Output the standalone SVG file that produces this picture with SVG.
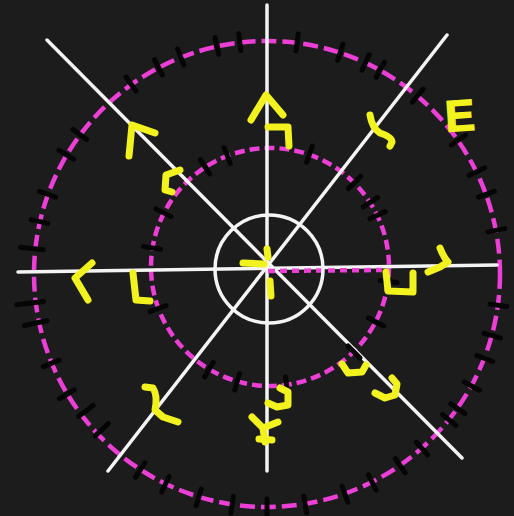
<svg xmlns="http://www.w3.org/2000/svg" width="514" height="516" viewBox="0 0 514 516">
<style>
.bg{fill:#1c1c1c}
.w{stroke:#f4f4f4;stroke-width:3.5;fill:none;stroke-linecap:round}
.m{stroke:#ec3fd6;stroke-width:4.5;fill:none}
.mo{stroke-dasharray:15 6}
.mi{stroke-dasharray:10 5}
.t{stroke:#050505;stroke-width:5;stroke-linecap:round}
.y{stroke:#f2f21e;stroke-width:7;fill:none;stroke-linecap:round;stroke-linejoin:round}
.yt{fill:#f2f21e;stroke:#f2f21e;stroke-width:1.5;font-family:"Liberation Sans",Arial,sans-serif;font-weight:bold;font-size:44px}
</style>
<rect class="bg" width="514" height="516"/>
<g id="circles">
<circle class="m mo" cx="267" cy="274" r="233"/>
<circle class="m mi" cx="270" cy="267" r="119"/>
</g>
<g id="connectors">
<line class="w" x1="267" y1="5" x2="267" y2="471"/>
<line class="w" x1="18" y1="272" x2="497" y2="265"/>
<line class="w" x1="47" y1="40" x2="462" y2="458"/>
<line class="w" x1="447" y1="35" x2="108" y2="471"/>
<line class="m" x1="268" y1="271" x2="382" y2="270" stroke-width="4" stroke-dasharray="7 5"/>
</g>
<g id="hub"><circle class="w" cx="269" cy="269" r="54"/></g>
<g id="ticks-outer" transform="translate(267 274)">
<g class="t">
<line x1="225" y1="0" x2="242" y2="0" transform="rotate(-82.6)"/>
<line x1="225" y1="0" x2="242" y2="0" transform="rotate(-71.7)"/>
<line x1="225" y1="0" x2="242" y2="0" transform="rotate(-65)"/>
<line x1="225" y1="0" x2="242" y2="0" transform="rotate(-61)"/>
<line x1="225" y1="0" x2="242" y2="0" transform="rotate(-49.8)"/>
<line x1="225" y1="0" x2="242" y2="0" transform="rotate(-35)"/>
<line x1="225" y1="0" x2="242" y2="0" transform="rotate(-26)"/>
<line x1="225" y1="0" x2="242" y2="0" transform="rotate(-20)"/>
<line x1="225" y1="0" x2="242" y2="0" transform="rotate(-10.8)"/>
<line x1="225" y1="0" x2="242" y2="0" transform="rotate(-102.4)"/>
<line x1="225" y1="0" x2="242" y2="0" transform="rotate(-96.7)"/>
<line x1="225" y1="0" x2="242" y2="0" transform="rotate(-111.7)"/>
<line x1="225" y1="0" x2="242" y2="0" transform="rotate(-117.7)"/>
<line x1="225" y1="0" x2="242" y2="0" transform="rotate(-125.6)"/>
<line x1="225" y1="0" x2="242" y2="0" transform="rotate(-143.3)"/>
<line x1="225" y1="0" x2="242" y2="0" transform="rotate(-149.3)"/>
<line x1="225" y1="0" x2="242" y2="0" transform="rotate(-160)"/>
<line x1="225" y1="0" x2="242" y2="0" transform="rotate(-167)"/>
<line x1="225" y1="0" x2="248" y2="0" transform="rotate(-173.8)"/>
<line x1="225" y1="0" x2="252" y2="0" transform="rotate(173)"/>
<line x1="225" y1="0" x2="248" y2="0" transform="rotate(168)"/>
<line x1="225" y1="0" x2="242" y2="0" transform="rotate(157.5)"/>
<line x1="225" y1="0" x2="242" y2="0" transform="rotate(149)"/>
<line x1="218" y1="0" x2="236" y2="0" transform="rotate(142.9)"/>
<line x1="218" y1="0" x2="236" y2="0" transform="rotate(136.7)"/>
<line x1="225" y1="0" x2="242" y2="0" transform="rotate(122.9)"/>
<line x1="225" y1="0" x2="242" y2="0" transform="rotate(115.8)"/>
<line x1="225" y1="0" x2="242" y2="0" transform="rotate(107)"/>
<line x1="225" y1="0" x2="242" y2="0" transform="rotate(98.6)"/>
<line x1="225" y1="0" x2="242" y2="0" transform="rotate(7.7)"/>
<line x1="225" y1="0" x2="242" y2="0" transform="rotate(15.3)"/>
<line x1="225" y1="0" x2="242" y2="0" transform="rotate(21.2)"/>
<line x1="225" y1="0" x2="242" y2="0" transform="rotate(28.7)"/>
<line x1="225" y1="0" x2="242" y2="0" transform="rotate(35.2)"/>
<line x1="225" y1="0" x2="242" y2="0" transform="rotate(38.7)"/>
<line x1="225" y1="0" x2="242" y2="0" transform="rotate(48.4)"/>
<line x1="225" y1="0" x2="242" y2="0" transform="rotate(55.2)"/>
<line x1="225" y1="0" x2="242" y2="0" transform="rotate(63.2)"/>
<line x1="225" y1="0" x2="242" y2="0" transform="rotate(70.5)"/>
<line x1="225" y1="0" x2="242" y2="0" transform="rotate(80.6)"/>
<line x1="225" y1="0" x2="242" y2="0" transform="rotate(90)"/>
</g>
</g>
<g id="ticks-inner" transform="translate(270 267)">
<g class="t">
<line x1="111" y1="0" x2="128" y2="0" transform="rotate(-70.7)"/>
<line x1="111" y1="0" x2="128" y2="0" transform="rotate(-45)"/>
<line x1="111" y1="0" x2="128" y2="0" transform="rotate(-32.8)"/>
<line x1="111" y1="0" x2="128" y2="0" transform="rotate(-25.7)"/>
<line x1="111" y1="0" x2="128" y2="0" transform="rotate(-123)"/>
<line x1="111" y1="0" x2="128" y2="0" transform="rotate(-111)"/>
<line x1="111" y1="0" x2="128" y2="0" transform="rotate(-153)"/>
<line x1="111" y1="0" x2="128" y2="0" transform="rotate(-170.8)"/>
<line x1="111" y1="0" x2="128" y2="0" transform="rotate(159.6)"/>
<line x1="111" y1="0" x2="128" y2="0" transform="rotate(120.7)"/>
<line x1="111" y1="0" x2="128" y2="0" transform="rotate(106)"/>
<line x1="111" y1="0" x2="128" y2="0" transform="rotate(7)"/>
<line x1="111" y1="0" x2="128" y2="0" transform="rotate(27.4)"/>
<line x1="111" y1="0" x2="128" y2="0" transform="rotate(45.3)"/>
<line x1="111" y1="0" x2="128" y2="0" transform="rotate(82)"/>
</g>
</g>
<g id="marks">
<g id="mark-center" class="y"><path d="M243 263 L264 264"/><path d="M267 249 L268 257"/><path d="M270 281 L271 296"/></g>
<g id="mark-n" class="y"><path d="M251 120 L266 95 L283 115"/><path d="M268 127 L288 127 L289 146"/></g>
<g id="mark-ne" class="y"><path d="M370 115 Q372 128 380 133 Q392 137 392 142 L390 146"/></g>
<g id="mark-e"><text class="yt" x="445" y="131" transform="rotate(-4 458 113)">E</text></g>
<g id="mark-nw" class="y"><path d="M155 133 L132 125 L129 156"/><path d="M180 170 L166 175 L165 190 L172 192"/></g>
<g id="mark-w" class="y"><path d="M92 263 L75 278 L88 300"/><path d="M133 273 L136 300 L150 301"/></g>
<g id="mark-east" class="y"><path d="M386 272 L388 291 L413 292 L413 273"/><path d="M440 248 Q444 258 448 262 L440 267 L428 272"/></g>
<g id="mark-se" class="y"><path d="M342 364 L348 373 L362 372 L366 365"/><path d="M392 378 L397 384 L395 395 L385 398 L375 393"/></g>
<g id="mark-sw" class="y"><path d="M145 387 L153 388 Q158 396 155 410 L163 417 L178 422"/></g>
<g id="mark-s" class="y"><path d="M280 388 L288 392 L288 405 L277 407 L268 403"/><path d="M252 417 L263 428 L278 422"/><path d="M263 428 L265 442"/><path d="M259 439 L272 440"/></g>
</g>
</svg>
